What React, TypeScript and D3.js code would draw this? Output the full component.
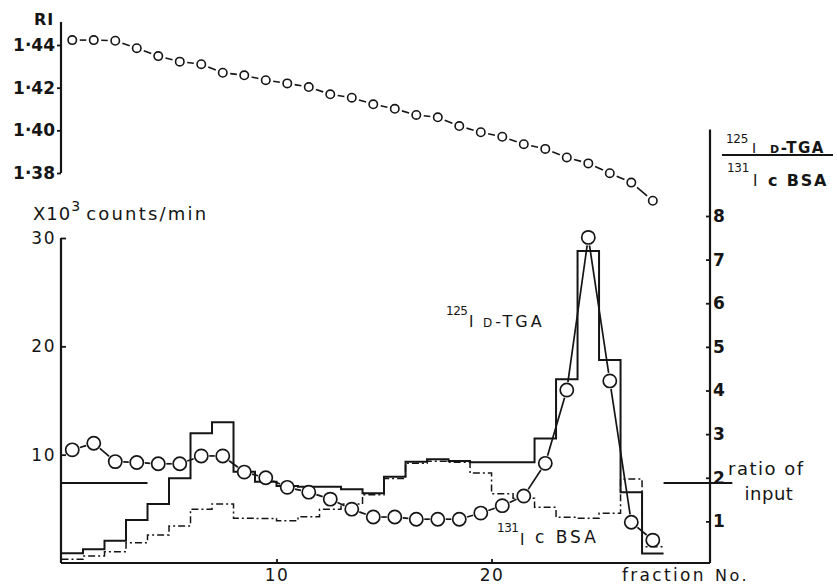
import { useEffect, useRef } from 'react'
import * as d3 from 'd3'

// fraction numbers (each fraction occupies [n-1, n] on the x axis)
const fractionNo = [1, 2, 3, 4, 5, 6, 7, 8, 9, 10, 11, 12, 13, 14, 15, 16, 17, 18, 19, 20, 21, 22, 23, 24, 25, 26, 27, 28]

// refractive index of each fraction (top panel)
const refractiveIndex = [
  1.4423, 1.4423, 1.442, 1.4385, 1.4348, 1.4322, 1.431, 1.427, 1.4258, 1.4235,
  1.422, 1.4203, 1.4169, 1.4153, 1.4122, 1.4101, 1.4072, 1.4061, 1.402, 1.3991,
  1.397, 1.3935, 1.3913, 1.3873, 1.3845, 1.3799, 1.3755, 1.367,
]

// 125I D-TGA / 131I c BSA ratio (circles, right axis)
const ratioValues = [
  2.64, 2.79, 2.37, 2.35, 2.32, 2.32, 2.5, 2.5, 2.13, 2.0,
  1.78, 1.67, 1.51, 1.28, 1.1, 1.1, 1.05, 1.05, 1.05, 1.19,
  1.36, 1.58, 2.33, 4.01, 7.51, 4.22, 0.98, 0.57,
]

// x10^3 counts/min, 125I D-TGA (solid histogram)
const tgaCounts = [
  0.9, 1.26, 2.06, 3.97, 5.45, 7.82, 11.98, 12.99, 8.43, 7.5,
  7.1, 7.05, 7.05, 6.8, 6.44, 7.97, 9.35, 9.58, 9.42, 9.3,
  9.3, 9.3, 11.5, 16.96, 28.8, 18.74, 6.53, 0.88,
]

// x10^3 counts/min, 131I c BSA (dash-dot histogram)
const bsaCounts = [
  0.34, 0.65, 1.04, 1.87, 2.59, 3.42, 4.96, 5.45, 4.13, 4.1,
  3.9, 4.27, 4.96, 5.45, 6.3, 7.8, 9.2, 9.4, 9.3, 8.3,
  6.4, 5.97, 5.14, 4.22, 4.13, 4.59, 7.76, 1.5,
]

const inputRatio = 1.88
const inputSpans = [[0, 4], [28, 31.2]]

const riTicks = [1.38, 1.4, 1.42, 1.44]
const countTicks = [10, 20, 30]
const ratioTicks = [1, 2, 3, 4, 5, 6, 7, 8]
const fractionTicks = [10, 20]

const FractionChart = () => {
  const svgRef = useRef<SVGSVGElement>(null)

  useEffect(() => {
    if (!svgRef.current) return
    const svg = d3.select(svgRef.current)
    svg.selectAll('*').remove()

    const ink = '#151515'
    const font = '"DejaVu Sans", sans-serif'

    // Scales
    const x = d3.scaleLinear().domain([0, 30.16]).range([61.5, 710])
    const yRI = d3.scaleLinear().domain([1.38, 1.44]).range([173, 45])
    const yCount = d3.scaleLinear().domain([0, 30]).range([563, 238])
    const yRatio = d3.scaleLinear().domain([0, 8]).range([565, 216])

    const leftX = 61
    const baseY = yCount(0)

    // Axis lines
    const axisLine = (x1: number, y1: number, x2: number, y2: number) =>
      svg.append('line')
        .attr('x1', x1).attr('y1', y1).attr('x2', x2).attr('y2', y2)
        .attr('stroke', ink).attr('stroke-width', 2.2)

    axisLine(leftX, yRI(1.4508), leftX, yRI(1.38))
    axisLine(leftX, yCount(30), leftX, baseY)
    axisLine(leftX, baseY, x(30.16), baseY)
    axisLine(x(30.16), yRatio(9.98), x(30.16), baseY)

    const styleAxis = (g: d3.Selection<SVGGElement, unknown, null, undefined>, size: number, weight = 'normal') => {
      g.select('.domain').remove()
      g.attr('font-family', font).attr('font-size', size)
      g.selectAll('line').attr('stroke', ink).attr('stroke-width', 1.8)
      g.selectAll('text').attr('fill', ink).style('font-weight', weight)
    }

    // RI axis
    svg.append('g')
      .attr('transform', `translate(${leftX},0)`)
      .call(d3.axisLeft(yRI).tickValues(riTicks).tickSizeInner(4).tickSizeOuter(0).tickPadding(2)
        .tickFormat(d => (d as number).toFixed(2).replace('.', '·')))
      .call(g => styleAxis(g, 17, 'bold'))

    // counts axis
    svg.append('g')
      .attr('transform', `translate(${leftX},0)`)
      .call(d3.axisLeft(yCount).tickValues(countTicks).tickSizeInner(-5).tickSizeOuter(0).tickPadding(5))
      .call(g => styleAxis(g, 17))
      .selectAll('text').attr('letter-spacing', 1.5)

    // ratio axis (right)
    svg.append('g')
      .attr('transform', `translate(${x(30.16)},0)`)
      .call(d3.axisRight(yRatio).tickValues(ratioTicks).tickSizeInner(-4).tickSizeOuter(0).tickPadding(3))
      .call(g => styleAxis(g, 17, 'bold'))

    // fraction axis
    svg.append('g')
      .attr('transform', `translate(0,${baseY})`)
      .call(d3.axisBottom(x).tickValues(fractionTicks).tickSizeInner(-4).tickSizeOuter(0).tickPadding(6))
      .call(g => styleAxis(g, 17))
      .selectAll('text').attr('letter-spacing', 1.5)

    // Histograms
    const steps = (vals: number[]) =>
      vals.flatMap((v, i) => [[fractionNo[i] - 1, v], [fractionNo[i], v]] as [number, number][])
    const stepLine = d3.line<[number, number]>()
      .x(d => x(d[0]))
      .y(d => yCount(d[1]))

    svg.append('path')
      .datum(steps(bsaCounts))
      .attr('fill', 'none')
      .attr('stroke', ink)
      .attr('stroke-width', 1.5)
      .attr('stroke-dasharray', '7,3,2,3')
      .attr('d', stepLine)

    svg.append('path')
      .datum(steps(tgaCounts))
      .attr('fill', 'none')
      .attr('stroke', ink)
      .attr('stroke-width', 2)
      .attr('d', stepLine)

    // ratio of input
    inputSpans.forEach(([a, b]) => {
      svg.append('line')
        .attr('x1', x(a)).attr('x2', x(b))
        .attr('y1', yRatio(inputRatio)).attr('y2', yRatio(inputRatio))
        .attr('stroke', ink).attr('stroke-width', 2)
    })

    // connected circles with short connectors between them
    const circleSeries = (vals: number[], y: (v: number) => number, r: number, gap: number, sw: number) => {
      const pts = vals.map((v, i) => [x(fractionNo[i] - 0.5), y(v)])
      pts.slice(1).forEach((p, i) => {
        const q = pts[i]
        const dx = p[0] - q[0]
        const dy = p[1] - q[1]
        const len = Math.hypot(dx, dy)
        const ux = dx / len
        const uy = dy / len
        svg.append('line')
          .attr('x1', q[0] + ux * gap).attr('y1', q[1] + uy * gap)
          .attr('x2', p[0] - ux * gap).attr('y2', p[1] - uy * gap)
          .attr('stroke', ink).attr('stroke-width', sw)
      })
      pts.forEach(p => {
        svg.append('circle')
          .attr('cx', p[0]).attr('cy', p[1]).attr('r', r)
          .attr('fill', '#fff').attr('stroke', ink).attr('stroke-width', sw)
      })
    }

    circleSeries(refractiveIndex, yRI, 4.2, 7.5, 1.6)
    circleSeries(ratioValues, yRatio, 6.6, 8, 1.7)

    // Labels
    const label = (tx: number, ty: number, text: string, size: number, opts: { anchor?: string, weight?: string, spacing?: number } = {}) =>
      svg.append('text')
        .attr('x', tx).attr('y', ty)
        .attr('text-anchor', opts.anchor ?? 'start')
        .attr('font-family', font)
        .attr('font-size', size)
        .attr('font-weight', opts.weight ?? 'normal')
        .attr('letter-spacing', opts.spacing ?? 0)
        .attr('fill', ink)
        .text(text)

    label(34, 25, 'RI', 16, { weight: 'bold', spacing: 1 })

    const unit = label(33, 220, 'X10', 18, { spacing: 1 })
    unit.append('tspan').attr('dy', -9).attr('font-size', 14).text('3')
    unit.append('tspan').attr('dy', 9).attr('dx', 5).attr('letter-spacing', 2.2).text('counts/min')

    // 125I D-TGA near the peak
    label(446, 315, '125', 12, { spacing: -0.5 })
    label(469, 327, 'I', 15)
    const tga = label(483, 327, 'D', 12, { spacing: 3 })
    tga.append('tspan').attr('font-size', 16).text('-TGA')

    // 131I c BSA
    label(497, 532, '131', 12, { spacing: -0.5 })
    label(520, 545, 'I', 15)
    label(535, 543, 'c BSA', 17, { spacing: 3 })

    // ratio title on the right axis
    label(726, 143, '125', 12, { spacing: -0.3 })
    label(752, 153, 'I', 14)
    const tgaTop = label(770, 153, 'D', 11, { weight: 'bold', spacing: 1.5 })
    tgaTop.append('tspan').attr('font-size', 15).text('-TGA')
    svg.append('line')
      .attr('x1', 722).attr('x2', 833).attr('y1', 155).attr('y2', 155)
      .attr('stroke', ink).attr('stroke-width', 1.8)
    label(727, 172, '131', 12, { spacing: -0.3 })
    label(753, 186, 'I', 15)
    label(768, 186, 'c BSA', 16, { weight: 'bold', spacing: 1.8 })

    label(728, 475, 'ratio of', 18, { spacing: 1.5 })
    label(769, 500, 'input', 18, { anchor: 'middle', spacing: 0.5 })

    label(622, 581, 'fraction', 17, { spacing: 2.3 })
    label(715, 581, 'No.', 16, { spacing: 2.5 })
  }, [])

  return (
    <svg
      ref={svgRef}
      width={837}
      height={585}
      style={{ position: 'absolute', left: 0, top: 0, background: '#fff' }}
    />
  )
}

export default FractionChart
